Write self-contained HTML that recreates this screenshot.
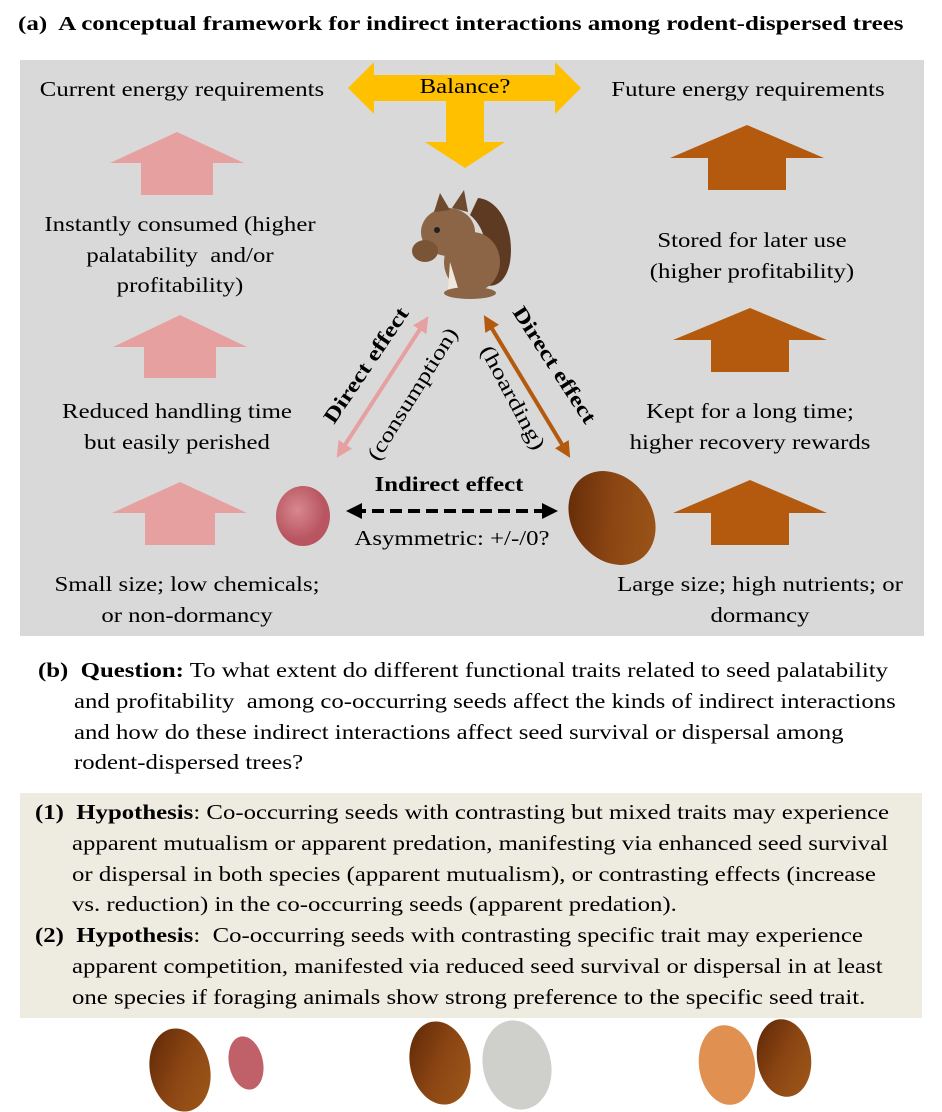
<!DOCTYPE html>
<html><head><meta charset="utf-8"><style>
body{margin:0;width:942px;height:1112px;background:#fff;position:relative;overflow:hidden;font-family:"Liberation Serif",serif;color:#000}
.t{position:absolute;font-size:21px;line-height:30.5px;white-space:nowrap;transform:scaleX(1.18);transform-origin:0 0}
.c{text-align:center;transform-origin:50% 0}
b{font-weight:bold}
</style></head><body>
<div class="t" style="left:18px;top:9px;font-size:20px;font-weight:bold;transform:scaleX(1.25)">(a)&nbsp; A conceptual framework for indirect interactions among rodent-dispersed trees</div>
<div style="position:absolute;left:20px;top:60px;width:904px;height:576px;background:#d9d9d9"></div>
<div style="position:absolute;left:20px;top:793px;width:902px;height:225px;background:#eeece1"></div>
<svg style="position:absolute;left:0;top:0" width="942" height="1112">
<defs>
<marker id="mp" markerWidth="4" markerHeight="4" refX="2" refY="2" orient="auto-start-reverse"><path d="M0,0 L4,2 L0,4z" fill="#e6a0a0"/></marker>
<marker id="mb" markerWidth="4" markerHeight="4" refX="2" refY="2" orient="auto-start-reverse"><path d="M0,0 L4,2 L0,4z" fill="#b45a0f"/></marker>
<marker id="mk" markerWidth="4" markerHeight="4" refX="2" refY="2" orient="auto-start-reverse"><path d="M0,0 L4,2 L0,4z" fill="#000"/></marker>
<radialGradient id="gp" cx="40%" cy="40%"><stop offset="0" stop-color="#d88890"/><stop offset="1" stop-color="#b85560"/></radialGradient>
<linearGradient id="gb" x1="0" y1="0" x2="1" y2="1"><stop offset="0" stop-color="#5a2505"/><stop offset=".5" stop-color="#8b4513"/><stop offset="1" stop-color="#a05a1a"/></linearGradient>
</defs>
<path d="M348,88 L374,62 L374,75 L555,75 L555,62 L581,88 L555,114 L555,101 L484,101 L484,142 L505,142 L465,168 L425,142 L446,142 L446,101 L374,101 L374,114Z" fill="#ffc000"/>
<g fill="#e6a0a0">
<path d="M110,163 L177,132 L244,163 L213,163 L213,195 L141,195 L141,163Z"/>
<path d="M113,347 L180,315 L247,347 L216,347 L216,378 L144,378 L144,347Z"/>
<path d="M112,513 L180,482 L247,513 L215,513 L215,545 L145,545 L145,513Z"/>
</g>
<g fill="#b45a0f">
<path d="M670,158 L747,125 L824,158 L786,158 L786,190 L708,190 L708,158Z"/>
<path d="M673,340 L750,308 L827,340 L789,340 L789,372 L711,372 L711,340Z"/>
<path d="M673,513 L750,480 L827,513 L789,513 L789,545 L711,545 L711,513Z"/>
</g>
<line x1="341" y1="451" x2="424" y2="323" stroke="#e6a0a0" stroke-width="4" marker-start="url(#mp)" marker-end="url(#mp)"/>
<line x1="488" y1="322" x2="566" y2="451" stroke="#b45a0f" stroke-width="4" marker-start="url(#mb)" marker-end="url(#mb)"/>
<line x1="354" y1="511" x2="550" y2="511" stroke="#000" stroke-width="4" stroke-dasharray="12,6" marker-start="url(#mk)" marker-end="url(#mk)"/>
<text font-family="Liberation Serif" font-weight="bold" font-size="21" textLength="135" lengthAdjust="spacingAndGlyphs" transform="translate(334,425) rotate(-56)">Direct effect</text>
<text font-family="Liberation Serif" font-size="21" textLength="152" lengthAdjust="spacingAndGlyphs" transform="translate(378,462) rotate(-58)">(consumption)</text>
<text font-family="Liberation Serif" font-weight="bold" font-size="21" textLength="135" lengthAdjust="spacingAndGlyphs" transform="translate(512,312) rotate(57)">Direct effect</text>
<text font-family="Liberation Serif" font-size="21" textLength="115" lengthAdjust="spacingAndGlyphs" transform="translate(480,350) rotate(62)">(hoarding)</text>
<path d="M478,198 C500,200 515,230 510,262 C506,285 490,292 478,280 C492,255 486,228 470,215Z" fill="#5e3a22"/>
<ellipse cx="472" cy="262" rx="28" ry="30" fill="#8b6545"/>
<ellipse cx="448" cy="232" rx="27" ry="24" fill="#8b6545"/>
<path d="M434,212 L440,193 L450,210Z" fill="#6b4a30"/>
<path d="M452,208 L464,190 L468,212Z" fill="#6b4a30"/>
<circle cx="437" cy="230" r="3" fill="#222"/>
<ellipse cx="425" cy="251" rx="13" ry="11" fill="#7a5535"/>
<path d="M450,262 L458,288 L448,290Z" fill="#f0e8dc"/>
<ellipse cx="470" cy="293" rx="26" ry="6" fill="#8b6545"/>
<ellipse cx="303" cy="516" rx="27" ry="30" fill="url(#gp)"/>
<ellipse cx="612" cy="518" rx="40" ry="50" transform="rotate(-35 612 518)" fill="url(#gb)"/>
<ellipse cx="180" cy="1070" rx="30" ry="42" transform="rotate(-12 180 1070)" fill="url(#gb)"/>
<ellipse cx="246" cy="1063" rx="17" ry="27" transform="rotate(-12 246 1063)" fill="#c06068"/>
<ellipse cx="440" cy="1063" rx="30" ry="42" transform="rotate(-12 440 1063)" fill="url(#gb)"/>
<ellipse cx="517" cy="1065" rx="34" ry="45" transform="rotate(-12 517 1065)" fill="#cfcfcc"/>
<ellipse cx="727" cy="1065" rx="28" ry="40" transform="rotate(-8 727 1065)" fill="#e09050"/>
<ellipse cx="784" cy="1058" rx="27" ry="39" transform="rotate(-8 784 1058)" fill="url(#gb)"/>
</svg>
<div class="t c" style="left:20px;width:324px;top:74px">Current energy requirements</div>
<div class="t c" style="left:590px;width:316px;top:74px">Future energy requirements</div>
<div class="t c" style="left:415px;width:100px;top:71px">Balance?</div>
<div class="t c" style="left:20px;width:320px;top:209px">Instantly consumed (higher<br>palatability&nbsp; and/or<br>profitability)</div>
<div class="t c" style="left:600px;width:304px;top:225px">Stored for later use<br>(higher profitability)</div>
<div class="t c" style="left:20px;width:314px;top:396px">Reduced handling time<br>but easily perished</div>
<div class="t c" style="left:600px;width:300px;top:396px">Kept for a long time;<br>higher recovery rewards</div>
<div class="t c" style="left:20px;width:334px;top:569px">Small size; low chemicals;<br>or non-dormancy</div>
<div class="t c" style="left:600px;width:320px;top:569px">Large size; high nutrients; or<br>dormancy</div>
<div class="t c" style="left:340px;width:218px;top:469px;font-weight:bold">Indirect effect</div>
<div class="t c" style="left:340px;width:224px;top:523px">Asymmetric: +/-/0?</div>
<div class="t" style="left:38px;top:655px"><b>(b)&nbsp; Question:</b> To what extent do different functional traits related to seed palatability</div>
<div class="t" style="left:74px;top:686px">and profitability&nbsp; among co-occurring seeds affect the kinds of indirect interactions<br>and how do these indirect interactions affect seed survival or dispersal among<br>rodent-dispersed trees?</div>
<div class="t" style="left:35px;top:797px"><b>(1)&nbsp; Hypothesis</b>: Co-occurring seeds with contrasting but mixed traits may experience</div>
<div class="t" style="left:72px;top:828px">apparent mutualism or apparent predation, manifesting via enhanced seed survival<br>or dispersal in both species (apparent mutualism), or contrasting effects (increase<br>vs. reduction) in the co-occurring seeds (apparent predation).</div>
<div class="t" style="left:35px;top:920px"><b>(2)&nbsp; Hypothesis</b>:&nbsp; Co-occurring seeds with contrasting specific trait may experience</div>
<div class="t" style="left:72px;top:951px">apparent competition, manifested via reduced seed survival or dispersal in at least<br>one species if foraging animals show strong preference to the specific seed trait.</div>
</body></html>
